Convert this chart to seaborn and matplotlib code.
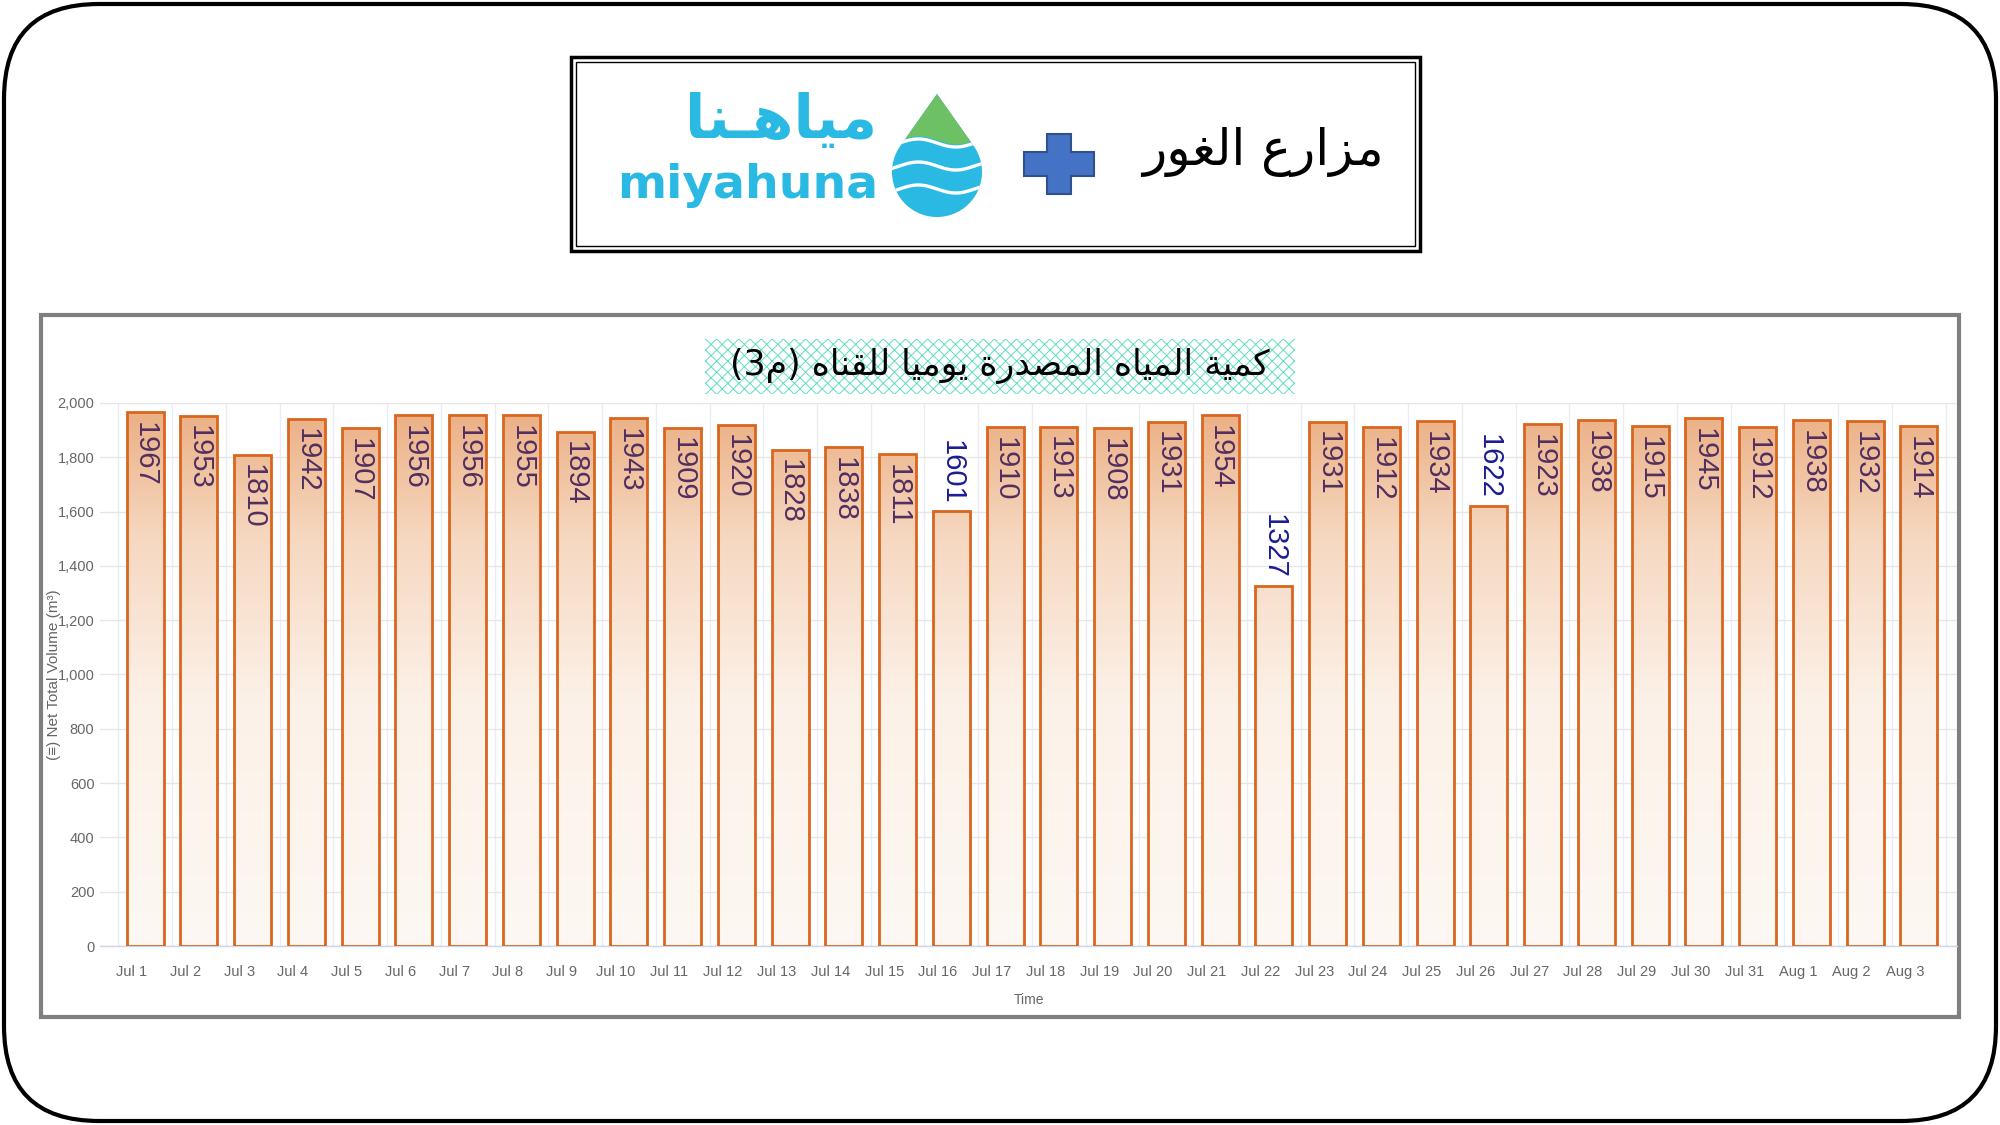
import numpy as np
import matplotlib
matplotlib.use('Agg')
import matplotlib.pyplot as plt
import seaborn as sns
from matplotlib.patches import Rectangle, FancyBboxPatch, Polygon, PathPatch
from matplotlib.path import Path
from matplotlib.colors import LinearSegmentedColormap
from matplotlib.ticker import FuncFormatter

# data
days = ['Jul %d' % d for d in range(1, 32)] + ['Aug 1', 'Aug 2', 'Aug 3']
volumes = [1967, 1953, 1810, 1942, 1907, 1956, 1956, 1955, 1894, 1943,
           1909, 1920, 1828, 1838, 1811, 1601, 1910, 1913, 1908, 1931,
           1954, 1327, 1931, 1912, 1934, 1622, 1923, 1938, 1915, 1945,
           1912, 1938, 1932, 1914]
y_ticks = [0, 200, 400, 600, 800, 1000, 1200, 1400, 1600, 1800, 2000]

chart_title = 'كمية المياه المصدرة يوميا للقناه'
farm_name = 'مزارع الغور'
logo_ar = 'مياهـنا'

# minimal arabic shaping (matplotlib has no complex text layout)
FORMS = {
    'ا': ('\uFE8D', '\uFE8E', None, None),
    'د': ('\uFEA9', '\uFEAA', None, None),
    'ر': ('\uFEAD', '\uFEAE', None, None),
    'ز': ('\uFEAF', '\uFEB0', None, None),
    'و': ('\uFEED', '\uFEEE', None, None),
    'ة': ('\uFE93', '\uFE94', None, None),
    'ص': ('\uFEB9', '\uFEBA', '\uFEBB', '\uFEBC'),
    'ع': ('\uFEC9', '\uFECA', '\uFECB', '\uFECC'),
    'غ': ('\uFECD', '\uFECE', '\uFECF', '\uFED0'),
    'ق': ('\uFED5', '\uFED6', '\uFED7', '\uFED8'),
    'ك': ('\uFED9', '\uFEDA', '\uFEDB', '\uFEDC'),
    'ل': ('\uFEDD', '\uFEDE', '\uFEDF', '\uFEE0'),
    'م': ('\uFEE1', '\uFEE2', '\uFEE3', '\uFEE4'),
    'ن': ('\uFEE5', '\uFEE6', '\uFEE7', '\uFEE8'),
    'ه': ('\uFEE9', '\uFEEA', '\uFEEB', '\uFEEC'),
    'ي': ('\uFEF1', '\uFEF2', '\uFEF3', '\uFEF4'),
    'ـ': ('\u0640', '\u0640', '\u0640', '\u0640'),
}


def shape(word):
    out = []
    for k, ch in enumerate(word):
        f = FORMS[ch]
        prev_j = k > 0 and FORMS[word[k - 1]][2] is not None
        next_j = k < len(word) - 1 and f[2] is not None
        idx = 3 if (prev_j and next_j) else 1 if prev_j else 2 if next_j else 0
        out.append(f[idx])
    return ''.join(reversed(out))


def ar(text):
    return ' '.join(shape(w) for w in reversed(text.split(' ')))


EDGE = '#D9661F'
LABEL_IN = '#512E5F'
LABEL_OUT = '#1C1C94'
CYAN = '#29B9E3'

sns.set_theme(style='white')
plt.rcParams['font.family'] = ['DejaVu Sans']
plt.rcParams['hatch.linewidth'] = 0.7
narrow = ['Liberation Sans Narrow', 'Liberation Sans', 'DejaVu Sans']

fig = plt.figure(figsize=(20, 11.25), dpi=100)

# background layer in pixel units
bg = fig.add_axes([0, 0, 1, 1], zorder=0)
bg.set_xlim(0, 2000)
bg.set_ylim(1125, 0)
bg.axis('off')

bg.add_patch(FancyBboxPatch((4, 4), 1992, 1117, boxstyle='round,pad=0,rounding_size=95',
                            fc='white', ec='black', lw=3))

# header box with double border
bg.add_patch(Rectangle((571, 57), 849, 194, fc='white', ec='black', lw=2.5))
bg.add_patch(Rectangle((576, 62), 839, 184, fc='none', ec='black', lw=1))

# logo text
bg.text(781, 122, ar(logo_ar), ha='center', va='center', fontsize=43,
        fontweight='bold', color=CYAN, family='DejaVu Sans')
bg.text(748, 186, 'miyahuna', ha='center', va='center', fontsize=34,
        fontweight='bold', color=CYAN, family='DejaVu Sans')

# drop icon
cx, cy, r, apex = 937, 172, 45, 94
alpha = np.arccos(r / (cy - apex))
theta = np.linspace(-np.pi / 2 - (np.pi / 2 - alpha), np.pi / 2 + (np.pi / 2 - alpha), 120)
# theta measured from straight down, sweeping around the bottom
arc = [(cx + r * np.sin(-t + np.pi), cy - r * np.cos(-t + np.pi)) for t in theta]
drop = Polygon([(cx, apex)] + arc, closed=True, fc=CYAN, ec='none')
bg.add_patch(drop)
wx = np.linspace(cx - r - 5, cx + r + 5, 100)
green = bg.fill_between(wx, apex - 5, 140 + 4 * np.sin((wx - cx) / r * np.pi * 1.2),
                        color='#6DC064', lw=0)
green.set_clip_path(drop)
for wy in [143, 166, 189]:
    ln, = bg.plot(wx, wy + 4 * np.sin((wx - cx) / r * np.pi * 1.2), color='white', lw=2.4)
    ln.set_clip_path(drop)

# blue plus
px, py, hw, hh, t = 1059, 164, 35, 30, 12
bg.add_patch(Polygon([(px - t, py - hh), (px + t, py - hh), (px + t, py - t), (px + hw, py - t),
                      (px + hw, py + t), (px + t, py + t), (px + t, py + hh), (px - t, py + hh),
                      (px - t, py + t), (px - hw, py + t), (px - hw, py - t), (px - t, py - t)],
                     closed=True, fc='#4472C4', ec='#2F528F', lw=1.5))

bg.text(1263, 152, ar(farm_name), ha='center', va='center', fontsize=36,
        color='black', family='DejaVu Sans')

# chart panel
bg.add_patch(Rectangle((41, 315), 1918, 702, fc='white', ec='#7F7F7F', lw=3))
bg.add_patch(Rectangle((705, 339), 590, 55, fc='white', ec='#5FDDC2', lw=0, hatch='xxx'))
bg.text(1000, 366, '(3' + shape('م') + ') ' + ar(chart_title), ha='center', va='center',
        fontsize=25, color='black', family='DejaVu Sans')

# main chart
ax = fig.add_axes([0.05, 0.1591, 0.9285, 0.4827], zorder=2)
ax.patch.set_alpha(0)
sns.barplot(x=days, y=volumes, order=days, fill=False, color=EDGE, linewidth=2,
            width=0.69, ax=ax)
for p in ax.patches:
    p.set_edgecolor(EDGE)
    p.set_zorder(3)

xlim = (-0.84, 33.71)
cmap = LinearSegmentedColormap.from_list(
    'bars', [(0, '#FDF8F3'), (0.45, '#FCF1E8'), (0.75, '#F6D8C1'), (1, '#EAAD80')])
grad = np.linspace(0, 1, 256).reshape(-1, 1)
im = ax.imshow(grad, cmap=cmap, aspect='auto', origin='lower',
               extent=(xlim[0], xlim[1], 0, 2000), zorder=1.5)
bar_paths = [p.get_path().transformed(p.get_patch_transform()) for p in ax.patches]
clip = PathPatch(Path.make_compound_path(*bar_paths), transform=ax.transData, fc='none')
im.set_clip_path(clip)

for i, v in enumerate(volumes):
    if v < 1700:
        ax.annotate(str(v), (i, v), xytext=(0, 5), textcoords='offset points', rotation=270,
                    ha='center', va='bottom', fontsize=21, color=LABEL_OUT,
                    family=['Liberation Sans', 'DejaVu Sans'], zorder=4)
    else:
        ax.annotate(str(v), (i, v), xytext=(0, -7), textcoords='offset points', rotation=270,
                    ha='center', va='top', fontsize=21, color=LABEL_IN,
                    family=['Liberation Sans', 'DejaVu Sans'], zorder=4)

ax.set_xlim(*xlim)
ax.set_ylim(0, 2000)
ax.set_yticks(y_ticks)
ax.yaxis.set_major_formatter(FuncFormatter(lambda v, _: '{:,.0f}'.format(v)))
ax.set_xticks(np.arange(len(days)) - 0.25)
ax.set_xticklabels(days)
ax.set_xticks(np.arange(len(days) + 1) - 0.5, minor=True)
ax.tick_params(axis='x', which='major', length=0, pad=14, labelsize=10.5, labelcolor='#666666')
ax.tick_params(axis='x', which='minor', length=7, width=1, color='#CCD6EB', direction='out')
ax.tick_params(axis='y', length=0, pad=4, labelsize=10.5, labelcolor='#666666')
for lab in ax.get_xticklabels() + ax.get_yticklabels():
    lab.set_family(narrow)

ax.grid(axis='y', which='major', color='#E6E6E6', lw=1, zorder=0)
ax.grid(axis='x', which='minor', color='#E9ECF1', lw=1, zorder=0)
ax.grid(axis='x', which='major', visible=False)
ax.set_axisbelow(True)
for s in ['top', 'right', 'left']:
    ax.spines[s].set_visible(False)
ax.spines['bottom'].set_color('#CCD6EB')
ax.spines['bottom'].set_linewidth(1)

ax.set_xlabel('Time', fontsize=10, color='#666666', family=narrow)
ax.xaxis.set_label_coords(0.5, -0.1)
ax.xaxis.label.set_va('center')
ax.set_ylabel('(\u2261) Net Total Volume (m\u00b3)', fontsize=11, color='#666666', family=narrow)
ax.yaxis.set_label_coords(-0.025, 0.5)
ax.yaxis.label.set_va('center')

fig.savefig('out.png', dpi=100)
